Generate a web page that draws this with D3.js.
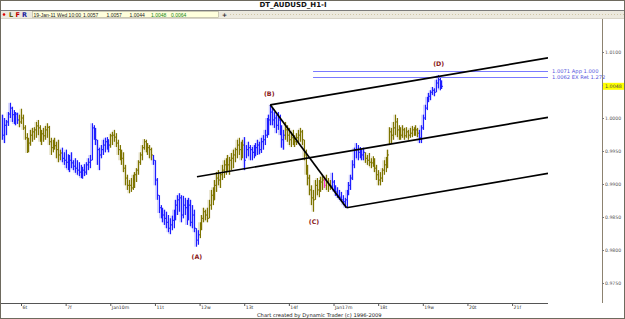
<!DOCTYPE html>
<html>
<head>
<meta charset="utf-8">
<script src="https://cdn.jsdelivr.net/npm/d3@7"></script>
<style>
  body { margin: 0; background: #fff; }
  svg { display: block; font-family: "DejaVu Sans", "Liberation Sans", sans-serif; }
</style>
</head>
<body>
<svg id="chart" width="625" height="319"></svg>
<script>
// hourly AUDUSD bars (Jan 5 14:00 .. Jan 19 10:00)
const highs = [
  1.0005,1.0000,0.9997,1.0009,1.0023,1.0017,1.0012,1.0009,1.0008,1.0005,
  1.0014,1.0005,0.9989,0.9977,0.9970,0.9982,0.9985,0.9986,0.9994,0.9997,
  0.9989,0.9982,0.9985,0.9988,0.9992,0.9988,0.9970,0.9967,0.9970,0.9964,
  0.9967,0.9952,0.9955,0.9948,0.9952,0.9945,0.9944,0.9948,0.9936,0.9939,
  0.9936,0.9933,0.9929,0.9926,0.9930,0.9933,0.9939,0.9944,0.9992,0.9989,
  0.9985,0.9967,0.9955,0.9959,0.9967,0.9970,0.9971,0.9967,0.9976,0.9979,
  0.9982,0.9977,0.9967,0.9959,0.9952,0.9948,0.9929,0.9914,0.9906,0.9909,
  0.9914,0.9918,0.9924,0.9936,0.9948,0.9959,0.9968,0.9967,0.9962,0.9959,
  0.9955,0.9944,0.9936,0.9909,0.9883,0.9868,0.9864,0.9861,0.9858,0.9853,
  0.9848,0.9852,0.9861,0.9876,0.9883,0.9886,0.9883,0.9882,0.9879,0.9876,
  0.9879,0.9876,0.9868,0.9861,0.9833,0.9830,0.9842,0.9853,0.9864,0.9861,
  0.9864,0.9876,0.9891,0.9895,0.9906,0.9918,0.9921,0.9918,0.9929,0.9936,
  0.9939,0.9944,0.9941,0.9947,0.9952,0.9955,0.9967,0.9970,0.9964,0.9967,
  0.9971,0.9959,0.9964,0.9959,0.9956,0.9959,0.9962,0.9967,0.9964,0.9970,
  0.9974,0.9982,1.0000,1.0005,1.0020,1.0015,1.0009,1.0005,1.0009,1.0005,
  0.9989,0.9982,0.9994,0.9989,0.9985,0.9979,0.9982,0.9974,0.9977,0.9982,
  0.9985,0.9982,0.9967,0.9952,0.9929,0.9914,0.9898,0.9891,0.9906,0.9909,
  0.9906,0.9911,0.9914,0.9911,0.9914,0.9909,0.9906,0.9917,0.9906,0.9898,
  0.9895,0.9891,0.9888,0.9883,0.9879,0.9891,0.9903,0.9914,0.9936,0.9955,
  0.9962,0.9959,0.9956,0.9952,0.9955,0.9948,0.9944,0.9947,0.9939,0.9942,
  0.9939,0.9929,0.9921,0.9918,0.9924,0.9936,0.9941,0.9952,0.9986,0.9985,
  0.9994,1.0005,1.0000,0.9989,0.9986,0.9989,0.9985,0.9986,0.9982,0.9985,
  0.9988,0.9986,0.9989,0.9985,0.9982,0.9989,1.0005,1.0020,1.0032,1.0038,
  1.0042,1.0047,1.0045,1.0058,1.0065,1.0061,1.0057
];
const lows = [
  0.9967,0.9962,0.9974,0.9988,1.0000,0.9994,0.9991,0.9989,0.9991,0.9986,
  0.9991,0.9982,0.9967,0.9947,0.9948,0.9958,0.9964,0.9967,0.9970,0.9974,
  0.9964,0.9959,0.9964,0.9967,0.9970,0.9959,0.9944,0.9948,0.9952,0.9939,
  0.9933,0.9936,0.9933,0.9929,0.9924,0.9921,0.9918,0.9924,0.9921,0.9917,
  0.9914,0.9912,0.9909,0.9908,0.9912,0.9914,0.9921,0.9924,0.9936,0.9967,
  0.9959,0.9929,0.9921,0.9939,0.9944,0.9948,0.9952,0.9948,0.9955,0.9959,
  0.9964,0.9956,0.9944,0.9936,0.9929,0.9918,0.9898,0.9891,0.9886,0.9888,
  0.9891,0.9894,0.9903,0.9914,0.9929,0.9936,0.9952,0.9948,0.9944,0.9939,
  0.9936,0.9929,0.9898,0.9876,0.9856,0.9848,0.9842,0.9838,0.9833,0.9827,
  0.9824,0.9830,0.9833,0.9845,0.9853,0.9858,0.9842,0.9848,0.9853,0.9838,
  0.9845,0.9836,0.9833,0.9827,0.9805,0.9808,0.9818,0.9830,0.9842,0.9845,
  0.9842,0.9848,0.9861,0.9868,0.9876,0.9888,0.9898,0.9894,0.9906,0.9909,
  0.9914,0.9918,0.9914,0.9921,0.9924,0.9933,0.9939,0.9944,0.9936,0.9939,
  0.9921,0.9939,0.9942,0.9936,0.9936,0.9939,0.9942,0.9944,0.9945,0.9947,
  0.9952,0.9959,0.9970,0.9974,0.9989,0.9989,0.9985,0.9977,0.9982,0.9974,
  0.9955,0.9952,0.9967,0.9964,0.9959,0.9956,0.9959,0.9956,0.9959,0.9962,
  0.9964,0.9959,0.9936,0.9914,0.9898,0.9883,0.9868,0.9858,0.9876,0.9883,
  0.9880,0.9888,0.9891,0.9894,0.9891,0.9888,0.9891,0.9894,0.9888,0.9882,
  0.9879,0.9876,0.9873,0.9868,0.9864,0.9864,0.9883,0.9891,0.9906,0.9924,
  0.9939,0.9936,0.9939,0.9936,0.9936,0.9932,0.9929,0.9927,0.9924,0.9926,
  0.9918,0.9906,0.9898,0.9898,0.9903,0.9914,0.9918,0.9924,0.9959,0.9962,
  0.9967,0.9974,0.9971,0.9967,0.9967,0.9970,0.9967,0.9970,0.9967,0.9970,
  0.9971,0.9973,0.9973,0.9971,0.9962,0.9962,0.9982,0.9997,1.0012,1.0024,
  1.0027,1.0035,1.0033,1.0039,1.0045,1.0042,1.0044
];
const closes = [
  0.9974,0.9989,0.9994,1.0006,1.0015,1.0005,1.0000,1.0006,0.9997,0.9994,
  1.0000,0.9985,0.9970,0.9959,0.9962,0.9974,0.9979,0.9982,0.9988,0.9985,
  0.9970,0.9976,0.9973,0.9982,0.9986,0.9964,0.9955,0.9961,0.9958,0.9952,
  0.9944,0.9947,0.9939,0.9936,0.9933,0.9929,0.9936,0.9932,0.9927,0.9924,
  0.9921,0.9918,0.9914,0.9921,0.9918,0.9929,0.9933,0.9936,0.9985,0.9979,
  0.9967,0.9952,0.9944,0.9952,0.9959,0.9964,0.9967,0.9959,0.9973,0.9974,
  0.9971,0.9962,0.9952,0.9944,0.9939,0.9924,0.9909,0.9898,0.9898,0.9894,
  0.9906,0.9914,0.9921,0.9933,0.9944,0.9955,0.9964,0.9959,0.9955,0.9952,
  0.9944,0.9936,0.9906,0.9883,0.9864,0.9858,0.9853,0.9848,0.9842,0.9833,
  0.9838,0.9845,0.9853,0.9868,0.9876,0.9879,0.9853,0.9868,0.9864,0.9861,
  0.9868,0.9842,0.9853,0.9833,0.9815,0.9823,0.9838,0.9848,0.9858,0.9853,
  0.9848,0.9868,0.9883,0.9876,0.9898,0.9909,0.9906,0.9914,0.9921,0.9929,
  0.9933,0.9929,0.9936,0.9939,0.9944,0.9952,0.9959,0.9952,0.9955,0.9959,
  0.9936,0.9952,0.9955,0.9952,0.9948,0.9952,0.9955,0.9959,0.9952,0.9964,
  0.9967,0.9974,0.9994,0.9997,1.0009,0.9997,1.0000,0.9989,0.9997,0.9982,
  0.9967,0.9974,0.9982,0.9974,0.9967,0.9970,0.9967,0.9964,0.9970,0.9974,
  0.9979,0.9967,0.9944,0.9921,0.9909,0.9891,0.9879,0.9876,0.9898,0.9891,
  0.9898,0.9903,0.9906,0.9898,0.9903,0.9898,0.9897,0.9903,0.9894,0.9888,
  0.9883,0.9880,0.9876,0.9873,0.9876,0.9888,0.9898,0.9909,0.9929,0.9952,
  0.9952,0.9948,0.9952,0.9944,0.9948,0.9939,0.9936,0.9933,0.9932,0.9936,
  0.9924,0.9914,0.9906,0.9909,0.9921,0.9929,0.9936,0.9944,0.9979,0.9974,
  0.9985,0.9994,0.9982,0.9979,0.9974,0.9982,0.9973,0.9979,0.9974,0.9977,
  0.9982,0.9979,0.9982,0.9977,0.9970,0.9985,1.0000,1.0015,1.0027,1.0033,
  1.0039,1.0042,1.0039,1.0053,1.0058,1.0048,1.0048
];

// colour runs of the bars [first, last, kind]
const colorRuns = [
  [0, 8, "blue"], [9, 31, "olive"], [32, 57, "blue"], [58, 80, "olive"],
  [81, 105, "blue"], [106, 129, "olive"], [130, 151, "blue"], [152, 176, "olive"],
  [177, 194, "blue"], [195, 223, "olive"], [224, 236, "blue"]
];
const markedBar = 173;

// day ticks (bar index of 00:00)
const dayBars   = [10, 34, 58, 82, 106, 130, 154, 178, 202, 226, 250, 274];
const dayLabels = ["6t", "7f", "Jan10m", "11t", "12w", "13t", "14f", "Jan17m", "18t", "19w", "20t", "21f"];

const priceTicks = [0.975, 0.980, 0.985, 0.990, 0.995, 1.000, 1.005, 1.010];
const lastPrice = 1.0048;

// pitchfork / channel lines [bar1, price1, bar2, price2]
const channelLines = [
  [144, 1.0020, 293.3, 1.0091],
  [144, 1.0020, 185, 0.9864],
  [185, 0.9864, 293.3, 0.9916],
  [104.6, 0.9911, 293.3, 1.0001]
];

const targetPrices = [1.0071, 1.0062];
const targetLabels = ["1.0071 App 1.000", "1.0062 EX Ret 1.272"];
const targetFrom = 167;

const waveNames = ["(A)", "(B)", "(C)", "(D)"];
const waveBars  = [104, 144, 167, 234];
const waveSide  = ["low", "high", "low", "high"];

const info = ["19-Jan-11 Wed 10:00", "1.0057", "1.0057", "1.0044", "1.0048", "0.0064"];

const colors = {
  blue:  { line: "#1e1eff", shade: "#8c8cff" },
  olive: { line: "#7d7400", shade: "#c4bb84" }
};

const svg = d3.select("#chart");
const W = 625, H = 319;
const plot = { left: 1, right: 548, top: 19, bottom: 303, axisX: 602 };

const x = d3.scaleLinear().domain([0, 293.3]).range([2.4, plot.right]);
const y = d3.scaleLinear().domain([0.975, 1.010]).range([283, 52]);

// frame + header
svg.append("rect").attr("x", 0).attr("y", 0).attr("width", W).attr("height", H).attr("fill", "#fff");

svg.append("text")
  .attr("x", 293).attr("y", 7)
  .attr("text-anchor", "middle")
  .attr("font-size", 7).attr("font-weight", "bold").attr("fill", "#111")
  .text("DT_AUDUSD_H1-I");

svg.append("rect").attr("x", 0).attr("y", 10).attr("width", W).attr("height", 8).attr("fill", "#ece9de");
svg.append("line").attr("x1", 0).attr("x2", W).attr("y1", 10.5).attr("y2", 10.5).attr("stroke", "#7c7c7c");
svg.append("line").attr("x1", 230).attr("x2", W).attr("y1", 14.5).attr("y2", 14.5)
  .attr("stroke", "#cfc6a8").attr("stroke-dasharray", "1,2");
svg.append("line").attr("x1", 0).attr("x2", W).attr("y1", 18.5).attr("y2", 18.5).attr("stroke", "#d8d4c8");

svg.append("circle").attr("cx", 4).attr("cy", 14.5).attr("r", 1.3).attr("fill", "#e00000");
[["L", 9, "#5c5c00"], ["F", 15.5, "#c00000"], ["R", 22, "#1c1ca0"]].forEach(d => {
  svg.append("text").attr("x", d[1]).attr("y", 17).attr("font-size", 6.5).attr("font-weight", "bold")
    .attr("fill", d[2]).text(d[0]);
});

svg.append("rect").attr("x", 32.5).attr("y", 11.5).attr("width", 186).attr("height", 6)
  .attr("fill", "#ffffdc").attr("stroke", "#b0ac98").attr("stroke-width", 0.6);
const infoX = [33.5, 83, 106.5, 129.5, 151, 171];
info.forEach((t, i) => {
  svg.append("text").attr("x", infoX[i]).attr("y", 16.6)
    .attr("font-size", 5).attr("font-family", "Liberation Sans, sans-serif")
    .attr("fill", i >= 4 ? "#118811" : "#222").text(t);
});
svg.append("text").attr("x", 222).attr("y", 16.5).attr("font-size", 6).attr("font-weight", "bold")
  .attr("fill", "#222").text("+");

// plot clip
svg.append("defs").append("clipPath").attr("id", "clip")
  .append("rect").attr("x", plot.left).attr("y", plot.top)
  .attr("width", plot.right - plot.left).attr("height", plot.bottom - plot.top);

const g = svg.append("g").attr("clip-path", "url(#clip)");

// bars
const kindOf = i => {
  const r = colorRuns.find(r => i >= r[0] && i <= r[1]);
  return r ? r[2] : "blue";
};
const bars = highs.map((h, i) => ({ i, h, l: lows[i], c: closes[i], kind: kindOf(i) }));

g.selectAll("rect.shade").data(bars).join("rect")
  .attr("class", "shade")
  .attr("x", d => x(d.i) - 1.5)
  .attr("width", 3)
  .attr("y", d => y(d.h))
  .attr("height", d => Math.max(1, y(d.l) - y(d.h)))
  .attr("fill", d => colors[d.kind].shade)
  .attr("opacity", 0.45);

g.selectAll("line.bar").data(bars).join("line")
  .attr("class", "bar")
  .attr("x1", d => Math.round(x(d.i)) + 0.5).attr("x2", d => Math.round(x(d.i)) + 0.5)
  .attr("y1", d => y(d.h)).attr("y2", d => y(d.l))
  .attr("stroke", d => d.i === markedBar ? "#ff33cc" : colors[d.kind].line)
  .attr("stroke-width", 1);

g.selectAll("line.close").data(bars).join("line")
  .attr("class", "close")
  .attr("x1", d => Math.round(x(d.i)) + 0.5).attr("x2", d => Math.round(x(d.i)) + 2)
  .attr("y1", d => y(d.c)).attr("y2", d => y(d.c))
  .attr("stroke", d => d.i === markedBar ? "#ff33cc" : colors[d.kind].line)
  .attr("stroke-width", 1);

// target lines
targetPrices.forEach((p, k) => {
  g.append("line")
    .attr("x1", x(targetFrom)).attr("x2", plot.right)
    .attr("y1", Math.round(y(p)) + 0.5).attr("y2", Math.round(y(p)) + 0.5)
    .attr("stroke", "#7a7aff").attr("stroke-width", 1.1);
  svg.append("text")
    .attr("x", 552).attr("y", y(p) + 2)
    .attr("font-size", 5.2).attr("fill", "#5555dd")
    .text(targetLabels[k]);
});

// channel lines
g.selectAll("line.chan").data(channelLines).join("line")
  .attr("class", "chan")
  .attr("x1", d => x(d[0])).attr("y1", d => y(d[1]))
  .attr("x2", d => x(d[2])).attr("y2", d => y(d[3]))
  .attr("stroke", "#000").attr("stroke-width", 1.7);

// wave labels
waveNames.forEach((t, k) => {
  const b = waveBars[k];
  const py = waveSide[k] === "low" ? y(lows[b]) + 12 : y(highs[b]) - 9;
  svg.append("text")
    .attr("x", x(b) + (k === 1 ? -1 : 1)).attr("y", py)
    .attr("text-anchor", "middle")
    .attr("font-size", 6.3).attr("font-weight", "bold").attr("fill", "#8a2020")
    .text(t);
});

// x axis
svg.append("line").attr("x1", 0).attr("x2", plot.right)
  .attr("y1", plot.bottom + 0.5).attr("y2", plot.bottom + 0.5).attr("stroke", "#555");

const xAxis = svg.append("g")
  .attr("transform", `translate(0,${plot.bottom})`)
  .call(d3.axisBottom(x).tickValues(dayBars).tickSize(3).tickFormat((d, i) => dayLabels[i]));
xAxis.select(".domain").remove();
xAxis.selectAll(".tick line").attr("stroke", "#555");
xAxis.selectAll(".tick text")
  .attr("text-anchor", "start").attr("x", 1).attr("y", 3).attr("dy", "0.71em")
  .attr("font-size", 4.6).attr("fill", "#333").attr("font-family", "DejaVu Sans, sans-serif");

// y axis on right
svg.append("line").attr("x1", plot.axisX + 0.5).attr("x2", plot.axisX + 0.5)
  .attr("y1", plot.top).attr("y2", plot.bottom).attr("stroke", "#8c8270");

const yAxis = svg.append("g")
  .attr("transform", `translate(${plot.axisX},0)`)
  .call(d3.axisRight(y).tickValues(priceTicks).tickSize(2).tickFormat(d3.format(".4f")));
yAxis.select(".domain").remove();
yAxis.selectAll(".tick line").attr("stroke", "#777");
yAxis.selectAll(".tick text")
  .attr("x", 3).attr("font-size", 4.6).attr("fill", "#555").attr("font-family", "DejaVu Sans, sans-serif");

svg.append("rect").attr("x", plot.axisX + 1).attr("y", y(lastPrice) - 3.5)
  .attr("width", W - plot.axisX - 2).attr("height", 7).attr("fill", "#ffff00");
svg.append("text").attr("x", plot.axisX + 3).attr("y", y(lastPrice) + 2)
  .attr("font-size", 4.8).attr("fill", "#444").text(d3.format(".4f")(lastPrice));

// footer
svg.append("text").attr("x", 257).attr("y", 316.5).attr("font-size", 5.2).attr("fill", "#222")
  .text("Chart created by Dynamic Trader  (c) 1996-2009");

// outer frame
svg.append("rect").attr("x", 0.5).attr("y", 0.5).attr("width", W - 1).attr("height", H - 1)
  .attr("fill", "none").attr("stroke", "#6e6a5e");
</script>
</body>
</html>
